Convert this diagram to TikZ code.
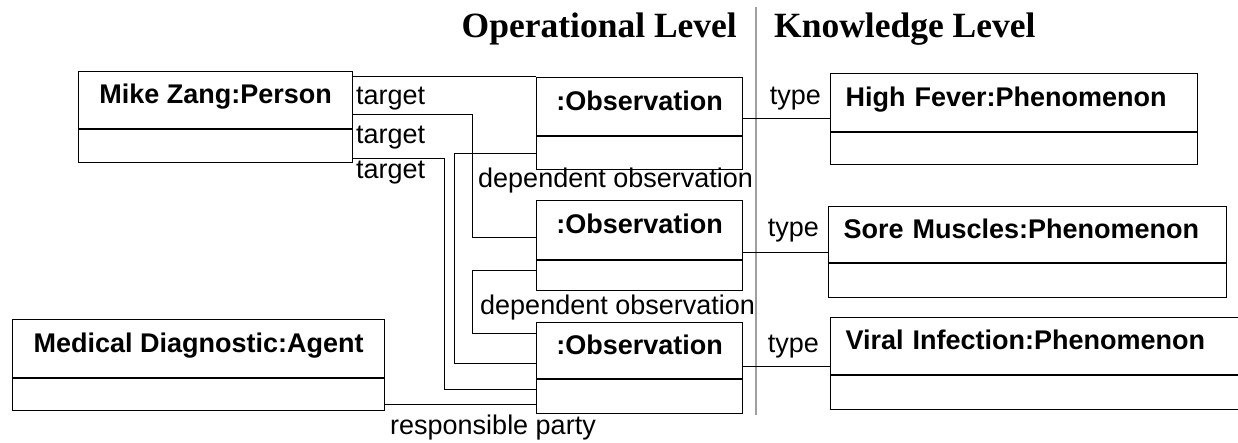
\documentclass[tikz,border=0pt]{standalone}
\usepackage{fontspec}
\newfontfamily\labelfont{Liberation Sans}
\newfontfamily\titlefont{Liberation Serif}
\usepackage{tikz}
\usetikzlibrary{positioning}

\begin{document}
\begin{tikzpicture}[x=1pt,y=-1pt,
  head/.style={draw,line width=1.2pt,anchor=north west,inner sep=0pt,
               font=\labelfont\bfseries\fontsize{27}{31}\selectfont,
               text height=19.5pt,text depth=12pt},
  phead/.style={head,align=left,inner xsep=15pt},
  body/.style={draw,line width=1.2pt,anchor=north,inner sep=0pt},
  link/.style={line width=1pt},
  lbl/.style={inner sep=0pt,font=\labelfont\fontsize{27}{31}\selectfont},
  title/.style={inner sep=0pt,font=\titlefont\bfseries\fontsize{35.5}{40}\selectfont},
  divider/.style={line width=1.5pt,gray!75}]

\useasboundingbox (0,0) rectangle (1238,443);
\clip (0,0) rectangle (1238,443);

% headings
\node[title,anchor=base east] (oplevel) at (737,37.5) {Operational Level};
\node[title,anchor=base west] (knlevel) at (774,37.5) {Knowledge Level};
\draw[divider] (756,7) -- (756,415);

% operational level objects
\node[head,minimum width=274pt,minimum height=57pt] (person) at (78,71) {Mike Zang:Person};
\node[body,minimum width=274pt,minimum height=33pt] (personb) at (person.south) {};

\node[head,minimum width=372pt,minimum height=58pt] (agent) at (12,319) {Medical Diagnostic:Agent};
\node[body,minimum width=372pt,minimum height=32pt] (agentb) at (agent.south) {};

\node[head,minimum width=206pt,minimum height=58pt] (obs1) at (536,77) {:Observation};
\node[body,minimum width=206pt,minimum height=33pt] (obs1b) at (obs1.south) {};

\node[head,minimum width=206pt,minimum height=59pt] (obs2) at (536,200) {:Observation};
\node[body,minimum width=206pt,minimum height=30pt] (obs2b) at (obs2.south) {};

\node[head,minimum width=206pt,minimum height=56pt] (obs3) at (536,322) {:Observation};
\node[body,minimum width=206pt,minimum height=34pt] (obs3b) at (obs3.south) {};

% knowledge level objects
\node[phead,minimum width=367pt,text width=337pt,minimum height=58pt] (fever) at (830,73) {High Fever:Phenomenon};
\node[body,minimum width=367pt,minimum height=32pt] (feverb) at (fever.south) {};

\node[phead,minimum width=398pt,text width=368pt,minimum height=56pt] (muscles) at (828,206) {Sore Muscles:Phenomenon};
\node[body,minimum width=398pt,minimum height=34pt] (musclesb) at (muscles.south) {};

\node[phead,minimum width=420pt,text width=390pt,minimum height=57pt] (viral) at (830,317) {Viral Infection:Phenomenon};
\node[body,minimum width=420pt,minimum height=34pt] (viralb) at (viral.south) {};

% target links
\draw[link] (obs1.north west) -- (obs1.north west -| person.east);
\draw[link] ([yshift=-14.5pt]person.east) -| ([xshift=-64pt,yshift=-7.5pt]obs2.west) -- ([yshift=-7.5pt]obs2.west);
\draw[link] ([yshift=-12.5pt]personb.east) -| ([xshift=-92pt,yshift=7pt]obs3b.west) -- ([yshift=7pt]obs3b.west);

% dependent observations
\draw[link] (obs1b.west) -| ([xshift=-82pt,yshift=-13pt]obs3.west) -- ([yshift=-13pt]obs3.west);
\draw[link] ([yshift=5pt]obs2b.west) -| ([xshift=-64pt,yshift=17pt]obs3.west) -- ([yshift=17pt]obs3.west);

% responsible party
\draw[link] ([yshift=-10pt]agentb.east) -- ([yshift=-10pt]agentb.east -| obs3b.west);

% type links
\draw[link] ([yshift=-12pt]obs1.east) -- ([yshift=-12pt]obs1.east -| fever.west);
\draw[link] ([yshift=-22.5pt]obs2.east) -- ([yshift=-22.5pt]obs2.east -| muscles.west);
\draw[link] ([yshift=-16pt]obs3.east) -- ([yshift=-16pt]obs3.east -| viral.west);

% labels
\node[lbl,anchor=base west] (tgt1) at (356,105) {target};
\node[lbl,anchor=base west] (tgt2) at (356,144) {target};
\node[lbl,anchor=base west] (tgt3) at (356,179) {target};
\node[lbl,anchor=base west] (dep1) at (478,188) {dependent observation};
\node[lbl,anchor=base west] (dep2) at (480,314) {dependent observation};
\node[lbl,anchor=base west] (resp) at (390,434) {responsible party};
\node[lbl,anchor=base east] (type1) at (821,105) {type};
\node[lbl,anchor=base east] (type2) at (819,237) {type};
\node[lbl,anchor=base east] (type3) at (819,352) {type};
\end{tikzpicture}
\end{document}
